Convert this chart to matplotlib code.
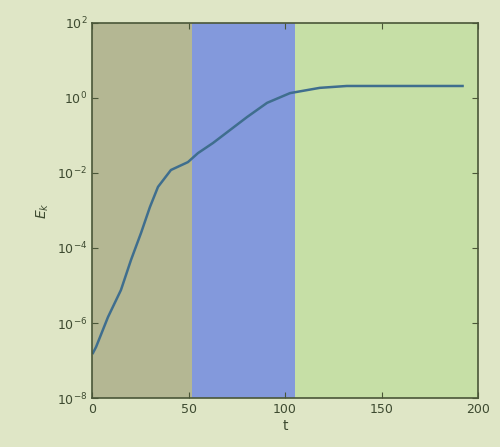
import matplotlib
matplotlib.use('Agg')
import matplotlib.pyplot as plt
import numpy as np

# energy growth over time, three regimes
t = [0.5, 2.1, 8.3, 15.0, 20.2, 25.4, 30.0, 34.2, 40.9, 49.7, 54.9, 62.7,
     80.3, 90.7, 102.6, 118.0, 132.0, 150.0, 170.0, 192.0]
log_e = [-6.8, -6.64, -5.84, -5.12, -4.32, -3.6, -2.91, -2.37, -1.92, -1.71,
         -1.47, -1.2, -0.51, -0.13, 0.13, 0.27, 0.32, 0.32, 0.32, 0.32]
e = 10.0 ** np.array(log_e)

regions = [(0, 52), (52, 105), (105, 200)]
region_colors = ['#b4b793', '#8399dc', '#c6dfa6']

fig = plt.figure(figsize=(5, 4.47), dpi=100, facecolor='#dfe6c6')
ax = fig.add_axes([0.184, 0.1096, 0.772, 0.839])

for (a, b), c in zip(regions, region_colors):
    ax.axvspan(a, b, color=c, lw=0, zorder=0)

ax.plot(t, e, color='#3f6e8e', lw=1.8, zorder=2)

ax.set_yscale('log')
ax.set_xlim(0, 200)
ax.set_ylim(1e-8, 1e2)
ax.set_xticks([0, 50, 100, 150, 200])
ax.set_yticks([1e-8, 1e-6, 1e-4, 1e-2, 1e0, 1e2])
ax.minorticks_off()
ax.tick_params(direction='in', top=True, right=True, length=4,
               colors='#4a5638', labelsize=9, labelcolor='#3d4a30')
for s in ax.spines.values():
    s.set_color('#4a5638')
    s.set_linewidth(1.2)

ax.set_xlabel('t', color='#3d4a30', fontsize=10, labelpad=2)
ax.set_ylabel('$E_k$', color='#3d4a30', fontsize=10, labelpad=4)

fig.savefig('out.png', facecolor=fig.get_facecolor())
